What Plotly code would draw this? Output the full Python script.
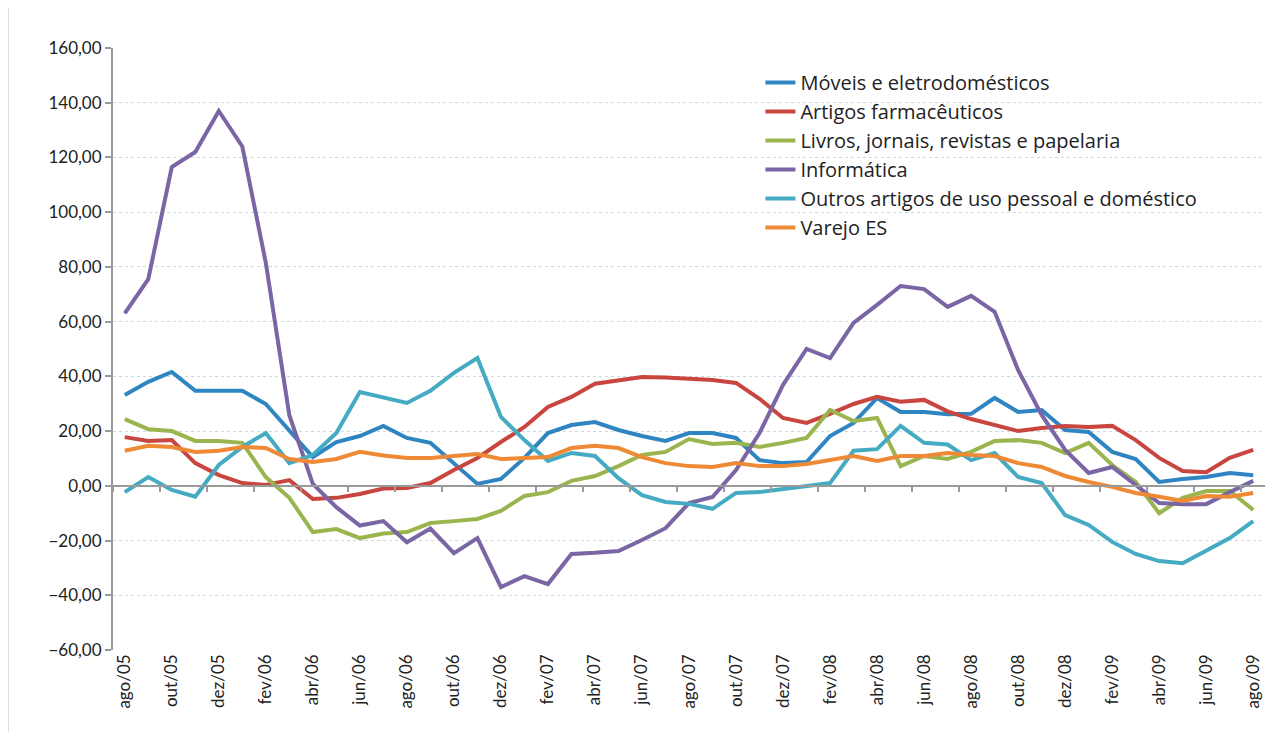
import plotly.graph_objects as go

MESES = ["jan", "fev", "mar", "abr", "mai", "jun", "jul", "ago", "set", "out", "nov", "dez"]
meses = []
for ano in range(5, 10):
    for i, m in enumerate(MESES):
        if (ano == 5 and i < 7) or (ano == 9 and i > 7):
            continue
        meses.append(f"{m}/{ano:02d}")

moveis = [33.2, 38.0, 41.6, 34.7, 34.7, 34.7, 29.9, 20.4, 10.5, 16.0, 18.2, 21.9, 17.5, 15.7, 8.3, 0.7,
          2.5, 10.2, 19.3, 22.2, 23.3, 20.4, 18.2, 16.4, 19.3, 19.3, 17.5, 9.4, 8.3, 8.7, 18.2, 23.0,
          32.1, 27.0, 27.0, 26.2, 26.3, 32.1, 27.0, 27.7, 20.4, 19.7, 12.4, 9.8, 1.4, 2.5, 3.2, 4.7, 3.9]
farmaceuticos = [17.8, 16.4, 16.7, 8.3, 3.9, 1.0, 0.3, 2.1, -4.8, -4.4, -3.0, -1.0, -0.8, 1.0, 5.8, 10.2,
                 16.0, 21.5, 28.8, 32.5, 37.3, 38.4, 39.8, 39.6, 39.1, 38.7, 37.6, 31.8, 24.8, 23.0, 26.3, 29.9,
                 32.5, 30.7, 31.4, 27.2, 24.4, 22.2, 20.0, 21.1, 21.9, 21.5, 21.9, 16.7, 10.2, 5.4, 5.0, 10.2, 13.1]
livros = [24.4, 20.7, 20.0, 16.4, 16.4, 15.7, 3.2, -4.4, -16.9, -15.8, -19.1, -17.4, -16.9, -13.6, -12.9, -12.1,
          -9.2, -3.7, -2.3, 1.8, 3.6, 7.2, 11.3, 12.4, 17.1, 15.3, 15.7, 14.2, 15.7, 17.5, 27.7, 23.7,
          24.8, 7.2, 10.9, 9.8, 12.4, 16.4, 16.7, 15.7, 12.0, 15.7, 7.6, 1.4, -10.0, -4.4, -1.9, -1.9, -8.8]
informatica = [63.0, 75.5, 116.5, 122.0, 137.0, 124.0, 81.5, 25.8, 0.7, -7.8, -14.5, -12.9, -20.6, -15.6, -24.6, -19.1,
               -37.0, -33.0, -35.9, -24.9, -24.5, -23.8, -19.8, -15.5, -6.3, -4.1, 5.8, 19.3, 36.9, 50.0, 46.7, 59.5,
               66.1, 73.0, 71.9, 65.4, 69.4, 63.6, 42.3, 25.9, 13.1, 4.7, 6.9, 0.3, -6.3, -6.7, -6.7, -2.3, 1.8]
outros = [-2.3, 3.2, -1.5, -4.0, 7.6, 14.2, 19.3, 8.3, 11.3, 19.3, 34.3, 32.3, 30.3, 34.7, 41.3, 46.7,
          25.2, 16.7, 9.1, 12.0, 10.9, 2.8, -3.4, -5.9, -6.6, -8.4, -2.6, -2.3, -1.2, -0.4, 1.0, 12.8,
          13.4, 21.9, 15.7, 15.1, 9.4, 12.0, 3.2, 1.0, -10.7, -14.3, -20.5, -24.9, -27.5, -28.3, -23.5, -19.1, -12.9]
varejo = [12.8, 14.6, 14.2, 12.4, 12.8, 14.2, 13.8, 9.8, 8.7, 9.8, 12.4, 11.1, 10.2, 10.2, 10.9, 11.6,
          9.8, 10.2, 10.5, 13.8, 14.6, 13.8, 10.5, 8.3, 7.2, 6.9, 8.3, 7.2, 7.2, 8.0, 9.4, 10.9,
          9.1, 10.9, 10.9, 12.0, 11.3, 10.9, 8.3, 6.9, 3.6, 1.4, -0.4, -2.6, -4.0, -5.5, -3.7, -4.0, -2.6]

series = [
    ("Móveis e eletrodomésticos", moveis, "#2F85C2"),
    ("Artigos farmacêuticos", farmaceuticos, "#C9453F"),
    ("Livros, jornais, revistas e papelaria", livros, "#9BB54E"),
    ("Informática", informatica, "#7A65A5"),
    ("Outros artigos de uso pessoal e doméstico", outros, "#45ABC2"),
    ("Varejo ES", varejo, "#EE8A35"),
]

FONT = "Lato"
fig = go.Figure()
for nome, vals, cor in series:
    fig.add_trace(go.Scatter(x=meses, y=vals, name=nome, mode="lines",
                             line=dict(color=cor, width=4)))

# eixo auxiliar só para desenhar a linha do eixo x em y=0 com as marcas
fig.add_trace(go.Scatter(x=meses, y=[None] * len(meses), xaxis="x2", showlegend=False,
                         hoverinfo="skip", mode="lines"))

# a página tem 8px de margem no body: área de plotagem fica em 113..1265 x 48..650
ymin, ymax = -60, 160
fig.update_layout(
    width=1260, height=724,
    margin=dict(l=105, r=3, t=40, b=82),
    paper_bgcolor="white", plot_bgcolor="white",
    font=dict(family=FONT, size=17, color="#222"),
    separators=",.",
    showlegend=True,
    legend=dict(x=0.562, y=0.975, xanchor="left", yanchor="top",
                bgcolor="rgba(0,0,0,0)", font=dict(family="Open Sans", size=20, color="#222"),
                tracegroupgap=0),
    xaxis=dict(type="category", range=[-0.5, len(meses) - 0.5], tickmode="linear", tick0=0, dtick=2,
               tickangle=-90, showgrid=False, showline=False, ticks="", automargin=False,
               tickfont=dict(size=17)),
    xaxis2=dict(type="category", overlaying="x", anchor="free", position=(0 - ymin) / (ymax - ymin),
                range=[-0.5, len(meses) - 0.5], tickmode="linear", tick0=0, dtick=2,
                tickson="boundaries", showticklabels=False, showgrid=False,
                showline=True, linecolor="#9a9a9a", linewidth=2,
                ticks="outside", ticklen=5, tickwidth=2, tickcolor="#9a9a9a"),
    yaxis=dict(range=[ymin, ymax], tick0=0, dtick=20, tickformat=".2f",
               showgrid=True, gridcolor="#c4dcdd", gridwidth=1, griddash="dot",
               zeroline=False, showline=True, linecolor="#9a9a9a", linewidth=2,
               ticks="outside", ticklen=6, tickwidth=2, tickcolor="#9a9a9a",
               automargin=False, tickfont=dict(size=17)),
    shapes=[dict(type="line", xref="paper", yref="paper",
                 x0=(8 - 113) / 1152, x1=(8 - 113) / 1152, y0=-0.2, y1=1.1,
                 line=dict(color="#c0c0c0", width=1))],
)

fig.write_html("out.html")
